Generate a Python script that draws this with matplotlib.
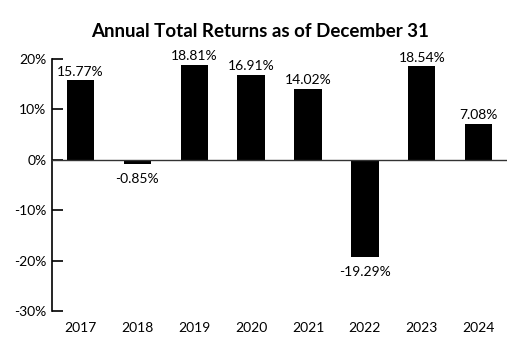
import matplotlib
matplotlib.use("Agg")
import matplotlib.pyplot as plt
import numpy as np

years = ["2017", "2018", "2019", "2020", "2021", "2022", "2023", "2024"]
returns = [15.77, -0.85, 18.81, 16.91, 14.02, -19.29, 18.54, 7.08]
yticks = [-30, -20, -10, 0, 10, 20]

plt.rcParams["font.family"] = ["Lato", "DejaVu Sans"]

fig = plt.figure(figsize=(5.31, 3.6), dpi=100)
ax = fig.add_axes([0.098, 0.136, 0.857, 0.700])

x = np.arange(len(years))
ax.bar(x, returns, width=0.48, color="black", zorder=2)

for xi, v in zip(x, returns):
    if v >= 0:
        ax.annotate(f"{v:.2f}%", (xi, v), xytext=(0, 2), textcoords="offset points",
                    ha="center", va="bottom", fontsize=10)
    else:
        ax.annotate(f"{v:.2f}%", (xi, v), xytext=(0, -6.5), textcoords="offset points",
                    ha="center", va="top", fontsize=10)

ax.axhline(0, color="#333333", lw=1.0, zorder=3)
ax.set_xlim(-0.5, 7.5)
ax.set_ylim(-30, 20)
ax.set_yticks(yticks)
ax.set_yticklabels([f"{t}%" for t in yticks], fontsize=10)
ax.set_xticks(x)
ax.set_xticklabels(years, fontsize=10)

for s in ["top", "right", "bottom"]:
    ax.spines[s].set_visible(False)
ax.spines["left"].set_linewidth(1.2)
ax.tick_params(axis="y", direction="in", length=8, width=1.2, pad=4)
ax.tick_params(axis="x", length=0, pad=8)

fig.suptitle("Annual Total Returns as of December 31", x=0.49, y=0.935,
             fontsize=13.5, fontweight="bold")

fig.savefig("out.png", dpi=100)
